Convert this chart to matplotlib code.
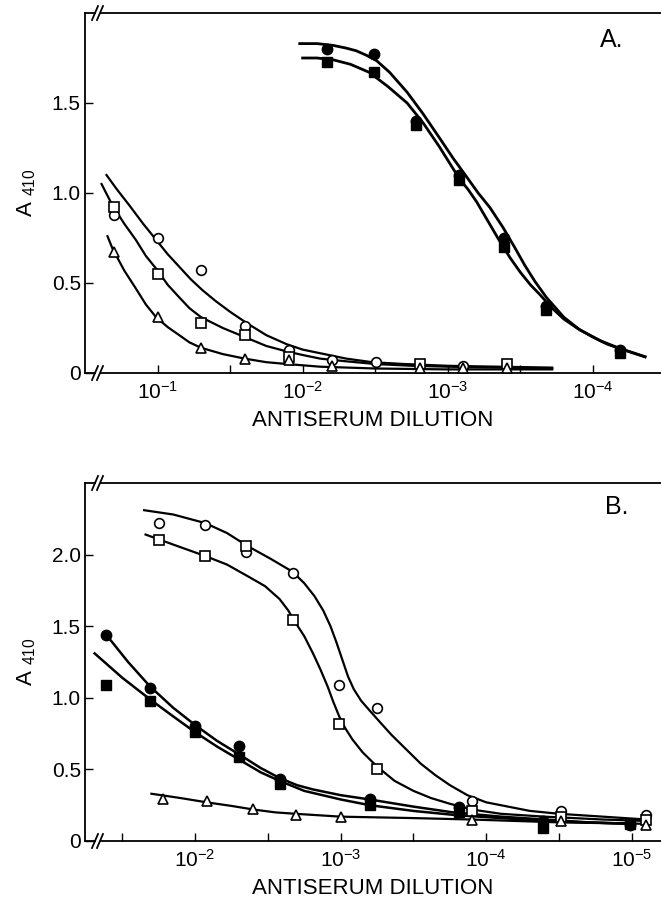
import matplotlib
matplotlib.use("Agg")
import matplotlib.pyplot as plt
import numpy as np

plt.rcParams['font.family'] = ['Liberation Sans', 'DejaVu Sans']
plt.rcParams['mathtext.fontset'] = 'custom'
plt.rcParams['mathtext.rm'] = 'Liberation Sans'

# ---- data: x as log10 of reciprocal dilution (dilution = 10**-e) ----
# Panel A, open symbols
a_circ_e = [0.699, 1.0, 1.301, 1.602, 1.903, 2.204, 2.505, 3.107]
a_circ_y = [0.88, 0.75, 0.57, 0.26, 0.13, 0.07, 0.06, 0.04]
a_sq_e = [0.699, 1.0, 1.301, 1.602, 1.903, 2.806, 3.408]
a_sq_y = [0.92, 0.55, 0.28, 0.21, 0.09, 0.05, 0.05]
a_tri_e = [0.699, 1.0, 1.301, 1.602, 1.903, 2.204, 2.806, 3.107, 3.408]
a_tri_y = [0.67, 0.31, 0.14, 0.08, 0.07, 0.04, 0.03, 0.03, 0.03]
# Panel A, filled symbols
a_fill_e = [2.17, 2.49, 2.78, 3.08, 3.39, 3.68, 4.19]
a_fcirc_y = [1.80, 1.77, 1.40, 1.10, 0.75, 0.37, 0.13]
a_fsq_y = [1.73, 1.67, 1.38, 1.07, 0.70, 0.35, 0.11]

# Panel A fitted curves
a_ccurve_e = [0.648, 0.72, 0.807, 0.90, 0.99, 1.07, 1.15, 1.23, 1.31, 1.40, 1.50, 1.61,
              1.75, 1.89, 2.0, 2.12, 2.3, 2.48, 2.7, 3.0, 3.35, 3.72]
a_ccurve_y = [1.10, 1.02, 0.93, 0.83, 0.74, 0.66, 0.59, 0.52, 0.46, 0.40, 0.34, 0.28,
              0.21, 0.16, 0.13, 0.11, 0.08, 0.06, 0.05, 0.04, 0.035, 0.03]
a_scurve_e = [0.614, 0.69, 0.77, 0.85, 0.92, 1.0, 1.07, 1.15, 1.22, 1.30, 1.45, 1.60,
              1.75, 1.89, 2.0, 2.12, 2.3, 2.5, 2.75, 3.0, 3.35, 3.72]
a_scurve_y = [1.05, 0.93, 0.83, 0.74, 0.65, 0.57, 0.49, 0.42, 0.36, 0.31, 0.25, 0.20,
              0.15, 0.12, 0.10, 0.08, 0.065, 0.05, 0.04, 0.035, 0.03, 0.025]
a_tcurve_e = [0.655, 0.69, 0.77, 0.85, 0.92, 0.99, 1.07, 1.15, 1.22, 1.30, 1.45, 1.60,
              1.75, 1.89, 2.12, 2.5, 3.0, 3.72]
a_tcurve_y = [0.76, 0.69, 0.57, 0.47, 0.38, 0.31, 0.255, 0.21, 0.17, 0.14, 0.105, 0.08,
              0.06, 0.05, 0.035, 0.025, 0.02, 0.02]
a_fccurve_e = [1.98, 2.10, 2.21, 2.30, 2.37, 2.44, 2.51, 2.60, 2.72, 2.83, 2.94, 3.04, 3.13,
               3.21, 3.29, 3.38, 3.46, 3.53, 3.60, 3.68, 3.80, 3.91, 4.05, 4.19, 4.36]
a_fccurve_y = [1.83, 1.83, 1.82, 1.805, 1.79, 1.765, 1.735, 1.67, 1.56, 1.44, 1.31, 1.19, 1.09,
               1.00, 0.92, 0.81, 0.70, 0.60, 0.51, 0.42, 0.31, 0.24, 0.18, 0.135, 0.09]
a_fscurve_e = [2.0, 2.10, 2.21, 2.33, 2.46, 2.59, 2.72, 2.83, 2.94, 3.01, 3.08, 3.14, 3.2,
               3.28, 3.36, 3.43, 3.5, 3.57, 3.63, 3.72, 3.8, 3.9, 4.0, 4.1, 4.19, 4.36]
a_fscurve_y = [1.75, 1.75, 1.74, 1.715, 1.67, 1.59, 1.50, 1.39, 1.26, 1.17, 1.08, 1.02, 0.95,
               0.84, 0.73, 0.64, 0.56, 0.49, 0.44, 0.36, 0.30, 0.245, 0.20, 0.16, 0.135, 0.09]

# Panel B, open symbols
b_open_e = [1.75, 2.07, 2.35, 2.67, 2.99, 3.25, 3.90, 4.51, 5.10]
b_circ_y = [2.22, 2.21, 2.02, 1.87, 1.09, 0.93, 0.28, 0.21, 0.18]
b_sq_y = [2.10, 1.99, 2.06, 1.54, 0.82, 0.50, 0.21, 0.17, 0.15]
b_tri_e = [1.78, 2.08, 2.40, 2.69, 3.0, 3.90, 4.51, 5.10]
b_tri_y = [0.29, 0.28, 0.22, 0.18, 0.17, 0.15, 0.14, 0.11]
# Panel B, filled symbols
b_fill_e = [1.39, 1.69, 2.0, 2.30, 2.58, 3.2, 3.81, 4.39, 4.99]
b_fcirc_y = [1.44, 1.07, 0.80, 0.66, 0.43, 0.29, 0.24, 0.14, 0.11]
b_fsq_y = [1.09, 0.98, 0.76, 0.59, 0.40, 0.25, 0.20, 0.09, 0.12]

# Panel B fitted curves
b_ccurve_e = [1.65, 1.85, 2.07, 2.22, 2.36, 2.52, 2.67, 2.75, 2.82, 2.88, 2.93, 2.97, 3.01,
              3.05, 3.09, 3.14, 3.20, 3.27, 3.35, 3.45, 3.55, 3.65, 3.75, 3.87, 4.0, 4.15,
              4.3, 4.5, 4.8, 5.1]
b_ccurve_y = [2.31, 2.28, 2.22, 2.15, 2.06, 1.97, 1.88, 1.80, 1.71, 1.61, 1.50, 1.39, 1.27,
              1.15, 1.06, 0.98, 0.91, 0.83, 0.74, 0.64, 0.54, 0.46, 0.39, 0.32, 0.27, 0.24,
              0.21, 0.19, 0.17, 0.15]
b_scurve_e = [1.66, 1.85, 2.07, 2.22, 2.36, 2.48, 2.58, 2.64, 2.68, 2.75, 2.81, 2.86, 2.91,
              2.95, 2.99, 3.03, 3.08, 3.15, 3.25, 3.37, 3.5, 3.62, 3.75, 3.9, 4.1, 4.4, 4.8, 5.1]
b_scurve_y = [2.14, 2.07, 1.99, 1.93, 1.85, 1.78, 1.69, 1.61, 1.54, 1.43, 1.31, 1.20, 1.08,
              0.97, 0.87, 0.79, 0.71, 0.62, 0.52, 0.42, 0.35, 0.30, 0.26, 0.22, 0.19, 0.17,
              0.15, 0.14]
b_fccurve_e = [1.39, 1.54, 1.69, 1.85, 2.0, 2.15, 2.31, 2.45, 2.58, 2.70, 2.81, 3.0, 3.2,
               3.5, 3.77, 4.1, 4.4, 4.7, 5.0]
b_fccurve_y = [1.44, 1.25, 1.08, 0.93, 0.81, 0.70, 0.60, 0.51, 0.44, 0.39, 0.36, 0.32, 0.29,
               0.24, 0.20, 0.17, 0.15, 0.13, 0.12]
b_fscurve_e = [1.31, 1.50, 1.69, 1.85, 2.0, 2.15, 2.30, 2.45, 2.58, 2.75, 3.0, 3.2, 3.5,
               3.8, 4.1, 4.4, 4.7, 5.0]
b_fscurve_y = [1.31, 1.14, 0.99, 0.87, 0.76, 0.66, 0.57, 0.48, 0.42, 0.35, 0.29, 0.25, 0.21,
               0.18, 0.16, 0.14, 0.13, 0.12]
b_tcurve_e = [1.70, 1.9, 2.08, 2.25, 2.40, 2.55, 2.69, 3.0, 3.5, 3.9, 4.5, 5.1]
b_tcurve_y = [0.33, 0.30, 0.27, 0.245, 0.22, 0.20, 0.19, 0.17, 0.16, 0.15, 0.13, 0.12]

a_xticks = [1, 2, 3, 4]
b_xticks = [2, 3, 4, 5]


def dil(e):
    return 10.0 ** -np.asarray(e)


def draw_break(ax, y):
    w, h = ax.bbox.width, ax.bbox.height
    ax.plot([10.5 / w, 14.5 / w], [y, y], transform=ax.transAxes, color='white',
            lw=3, clip_on=False, zorder=5, solid_capstyle='butt')
    for x0 in (10, 15):
        ax.plot([(x0 - 3) / w, (x0 + 3) / w], [y - 7 / h, y + 7 / h],
                transform=ax.transAxes, color='black', lw=1.3, clip_on=False, zorder=6)


def style_axes(ax, e_left, e_right, ymax, yticks, ytlabels, xticks):
    ax.set_xscale('log')
    ax.set_xlim(dil(e_left), dil(e_right))
    ax.set_ylim(0, ymax)
    ax.set_xticks(dil(xticks))
    ax.set_xticklabels([r'$\mathregular{10^{-%d}}$' % k for k in xticks])
    minor = [k + 0.5 for k in range(0, 6) if e_left < k + 0.5 < e_right]
    ax.set_xticks(dil(minor), minor=True)
    ax.set_xticklabels([], minor=True)
    ax.set_yticks(yticks)
    ax.set_yticklabels(ytlabels)
    ax.tick_params(axis='both', which='both', direction='in', length=6, width=1,
                   labelsize=15, color='black')
    ax.tick_params(axis='x', pad=6)
    ax.tick_params(axis='y', pad=3)
    ax.spines['right'].set_visible(False)
    for s in ('left', 'top', 'bottom'):
        ax.spines[s].set_linewidth(1.3)
    ax.set_xlabel('ANTISERUM DILUTION', fontsize=16, labelpad=5)
    ax.set_ylabel(r'A $_{\mathregular{410}}$', fontsize=16, labelpad=10)
    draw_break(ax, 1.0)
    draw_break(ax, 0.0)


mk_open = dict(linestyle='none', markerfacecolor='white', markeredgecolor='black',
               markeredgewidth=1.2, zorder=4)
mk_fill = dict(linestyle='none', color='black', zorder=4)

fig = plt.figure(figsize=(6.61, 9.10), dpi=100)
axA = fig.add_axes([85 / 661, (910 - 373) / 910, 576 / 661, 360 / 910])
axB = fig.add_axes([85 / 661, (910 - 841) / 910, 576 / 661, 358 / 910])

# ---- Panel A ----
for ce, cy in [(a_ccurve_e, a_ccurve_y), (a_scurve_e, a_scurve_y), (a_tcurve_e, a_tcurve_y)]:
    axA.plot(dil(ce), cy, color='black', lw=1.6)
axA.plot(dil(a_fccurve_e), a_fccurve_y, color='black', lw=2.0)
axA.plot(dil(a_fscurve_e), a_fscurve_y, color='black', lw=2.0)
axA.plot(dil(a_circ_e), a_circ_y, marker='o', ms=7, **mk_open)
axA.plot(dil(a_sq_e), a_sq_y, marker='s', ms=6.5, **mk_open)
axA.plot(dil(a_tri_e), a_tri_y, marker='^', ms=6.5, **mk_open)
axA.plot(dil(a_fill_e), a_fcirc_y, marker='o', ms=7.5, **mk_fill)
axA.plot(dil(a_fill_e), a_fsq_y, marker='s', ms=7, **mk_fill)
style_axes(axA, 0.5, 4.47, 2.0, [0, 0.5, 1.0, 1.5], ['0', '0.5', '1.0', '1.5'], a_xticks)
axA.text(0.915, 0.925, 'A.', transform=axA.transAxes, fontsize=18, ha='center', va='center')

# ---- Panel B ----
for ce, cy in [(b_ccurve_e, b_ccurve_y), (b_scurve_e, b_scurve_y), (b_tcurve_e, b_tcurve_y)]:
    axB.plot(dil(ce), cy, color='black', lw=1.6)
axB.plot(dil(b_fccurve_e), b_fccurve_y, color='black', lw=1.8)
axB.plot(dil(b_fscurve_e), b_fscurve_y, color='black', lw=1.8)
axB.plot(dil(b_open_e), b_circ_y, marker='o', ms=7, **mk_open)
axB.plot(dil(b_open_e), b_sq_y, marker='s', ms=6.5, **mk_open)
axB.plot(dil(b_tri_e), b_tri_y, marker='^', ms=6.5, **mk_open)
axB.plot(dil(b_fill_e), b_fcirc_y, marker='o', ms=7.5, **mk_fill)
axB.plot(dil(b_fill_e), b_fsq_y, marker='s', ms=7, **mk_fill)
style_axes(axB, 1.244, 5.20, 2.5, [0, 0.5, 1.0, 1.5, 2.0], ['0', '0.5', '1.0', '1.5', '2.0'], b_xticks)
axB.text(0.924, 0.933, 'B.', transform=axB.transAxes, fontsize=18, ha='center', va='center')

fig.savefig('out.png', dpi=100)
